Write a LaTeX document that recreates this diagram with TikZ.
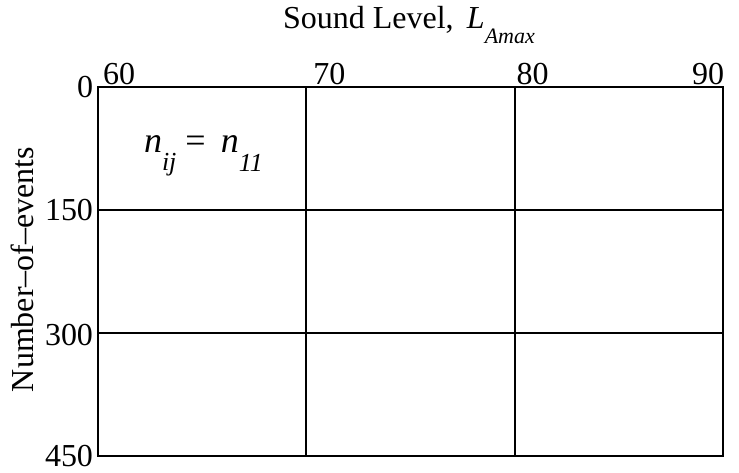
\documentclass[tikz,border=0pt]{standalone}
\usepackage{fontspec}
\setmainfont{Liberation Serif}
\usetikzlibrary{calc}
\newcommand{\lowsub}[3]{\raisebox{-#1}{\fontsize{#2}{#2}\selectfont\itshape #3}}

\begin{document}
\begin{tikzpicture}[x=1pt, y=1pt, line width=2pt,
  lbl/.style={inner sep=0pt, font=\fontsize{32}{38}\selectfont}]
  \useasboundingbox (0,0) rectangle (739,-472);
  % 网格四角
  \coordinate (TL) at (98,-87);
  \coordinate (TR) at (723,-87);
  \coordinate (BL) at (98,-456);
  \coordinate (BR) at (723,-456);
  % 三等分点
  \coordinate (T1) at ($(TL)!1/3!(TR)$);
  \coordinate (T2) at ($(TL)!2/3!(TR)$);
  \coordinate (B1) at ($(BL)!1/3!(BR)$);
  \coordinate (B2) at ($(BL)!2/3!(BR)$);
  \coordinate (L1) at ($(TL)!1/3!(BL)$);
  \coordinate (L2) at ($(TL)!2/3!(BL)$);
  \coordinate (R1) at ($(TR)!1/3!(BR)$);
  \coordinate (R2) at ($(TR)!2/3!(BR)$);

  \draw[line width=1.3pt] (TL) rectangle (BR);
  \draw (T1) -- (B1);
  \draw (T2) -- (B2);
  \draw (L1) -- (R1);
  \draw (L2) -- (R2);

  % 横轴刻度
  \node[lbl, anchor=base west] (x60) at ($(TL)+(4,3)$) {60};
  \node[lbl, anchor=base west] (x70) at ($(T1)+(6,3)$) {70};
  \node[lbl, anchor=base west] (x80) at ($(T2)+(1,3)$) {80};
  \node[lbl, anchor=base east] (x90) at ($(TR)+(2,3)$) {90};
  % 纵轴刻度
  \node[lbl, anchor=east] (y0)   at ($(TL)+(-4,0)$) {0};
  \node[lbl, anchor=east] (y150) at ($(L1)+(-4,0)$) {150};
  \node[lbl, anchor=east] (y300) at ($(L2)+(-4,-2)$) {300};
  \node[lbl, anchor=east] (y450) at ($(BL)+(-4,0)$) {450};

  \node[lbl, anchor=base west] (xtitle) at (282,-28)
    {Sound Level,\, \textit{L}\lowsub{15pt}{22}{Amax}};
  \node[lbl, anchor=base west, rotate=90] (ytitle) at (33,-393)
    {Number–of–events};
  \node[lbl, anchor=base west, font=\fontsize{36}{40}\selectfont] (cell) at (143,-152)
    {\textit{n}\lowsub{18pt}{26}{ij}\ =\ \,\textit{n}\lowsub{19pt}{26}{11}};
\end{tikzpicture}
\end{document}
